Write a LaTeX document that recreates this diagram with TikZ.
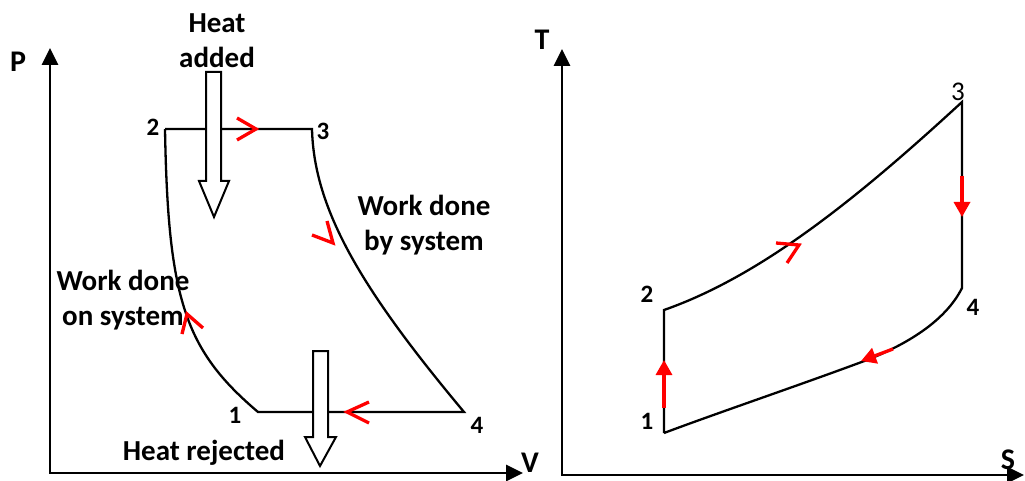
\documentclass[tikz,border=0pt]{standalone}
\usepackage{fontspec}
\setmainfont{Carlito}
\usetikzlibrary{arrows.meta}
\begin{document}
\begin{tikzpicture}[x=1pt,y=-1pt,
  axis/.style={line width=2.8pt,line join=miter,{Triangle[length=17pt,width=16pt]}-{Triangle[length=17pt,width=16pt]}},
  cyc/.style={line width=2.3pt,line join=miter},
  chev/.style={red,line width=3.3pt},
  redarrow/.style={red,line width=3.3pt,-{Triangle[length=15pt,width=16pt]}},
  blockarrow/.style={draw=black,fill=white,line width=2pt},
  txt/.style={font=\fontsize{29}{35}\selectfont\bfseries,align=center,inner sep=0pt},
  num/.style={font=\fontsize{25}{25}\selectfont\bfseries,inner sep=0pt,anchor=base},
  axlab/.style={font=\fontsize{30}{30}\selectfont\bfseries,inner sep=0pt}]
\useasboundingbox (0,0) rectangle (1025,481);
% ---------- left: P-V ----------
\coordinate (Ptop) at (50,48);
\coordinate (Lo) at (50,473);
\coordinate (Vend) at (523,473);
\draw[axis] (Ptop) -- (Lo) -- (Vend);
\node[axlab] (P) at (18,62) {P};
\node[axlab] (V) at (530,463) {V};
\coordinate (L1) at (258,412);
\coordinate (L2) at (165,129);
\coordinate (L3) at (312,129);
\coordinate (L4) at (464,412);
\draw[cyc] (L2) -- (L3) .. controls (314,210) and (362,290) .. (L4) -- (L1)
  .. controls (185,350) and (168,300) .. (L2);
% chevrons
\draw[chev] (237,118) -- (256,129) -- (237,140);
\draw[chev] (369,402) -- (347,412) -- (369,423);
\draw[chev] (312,235) -- (333,243) -- (327,221);
\draw[chev] (182,334) -- (187,314) -- (203,328);
% block arrows
\draw[blockarrow] (206,72) -- (221,72) -- (221,181) -- (229,181) -- (214,217)
  -- (199,181) -- (206,181) -- cycle;
\draw[blockarrow] (313,351) -- (328,351) -- (328,437) -- (336,437) -- (320,466)
  -- (305,437) -- (313,437) -- cycle;
% texts
\node[txt] (hadd) at (217,41) {Heat\\added};
\node[txt] (wby) at (424,225) {Work done\\by system};
\node[txt] (won) at (123,300) {Work done\\on system};
\node[txt] (hrej) at (204,453) {Heat rejected};
\node[num] (n2) at (153,136) {2};
\node[num] (n3) at (323,140) {3};
\node[num] (n1) at (235,423) {1};
\node[num] (n4) at (477,433) {4};
% ---------- right: T-S ----------
\coordinate (Ttop) at (562,49);
\coordinate (Ro) at (562,475);
\coordinate (Send) at (1024,475);
\draw[axis] (Ttop) -- (Ro) -- (Send);
\node[axlab] (T) at (542,40) {T};
\node[axlab] (S) at (1008,460) {S};
\coordinate (R1) at (664,433);
\coordinate (R2) at (664,310);
\coordinate (R3) at (962,102);
\coordinate (R4) at (962,288);
\coordinate (Rm) at (867,360);
\draw[cyc] (R1) -- (R2) .. controls (764,275) and (862,194) .. (R3) -- (R4)
  .. controls (945,322) and (905,345) .. (Rm)
  .. controls (800,385) and (720,412) .. (R1);
\draw[redarrow] (664,408) -- (664,360);
\draw[redarrow] (962,176) -- (962,217);
\draw[redarrow] (893,349) -- (861,361);
\draw[chev] (776,243) -- (799,245) -- (787,263);
\node[num] (r2) at (647,302) {2};
\node[num] (r1) at (647,429) {1};
\node[num,font=\fontsize{27}{27}\selectfont] (r3) at (958,101) {3};
\node[num] (r4) at (973,315) {4};
\end{tikzpicture}
\end{document}
